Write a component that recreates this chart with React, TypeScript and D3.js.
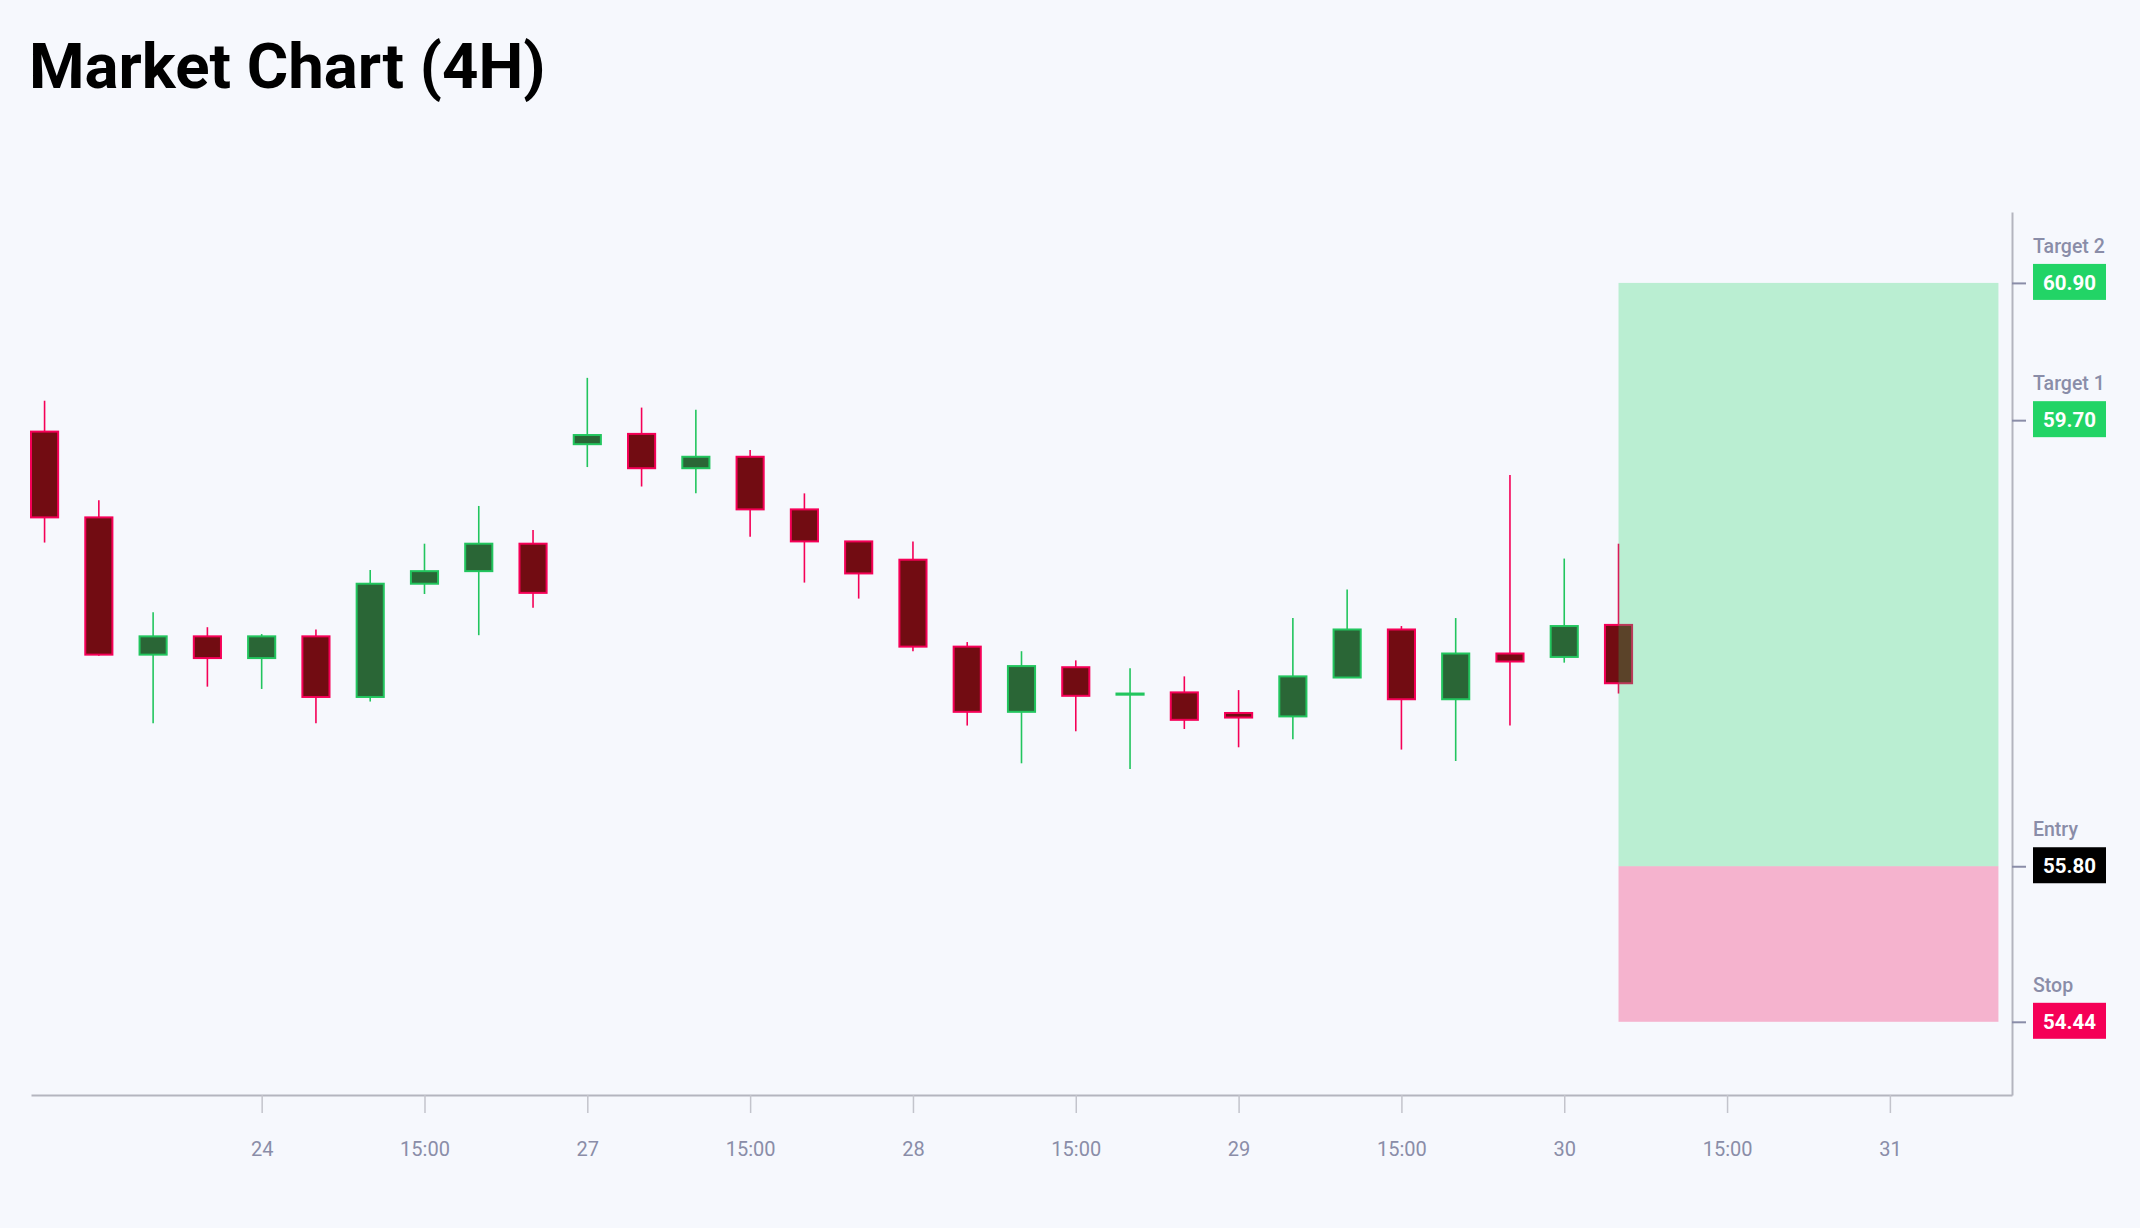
import React, { useEffect, useRef } from 'react';
import * as d3 from 'd3';

// 4H candles, oldest first
const opens = [59.60, 58.85, 57.65, 57.81, 57.62, 57.81, 57.28, 58.27, 58.38, 58.62,
  59.49, 59.58, 59.28, 59.38, 58.92, 58.64, 58.48, 57.72, 57.15, 57.54,
  57.30, 57.32, 57.14, 57.11, 57.45, 57.87, 57.26, 57.66, 57.63, 57.91];
const highs = [59.87, 59.00, 58.02, 57.89, 57.83, 57.87, 58.39, 58.62, 58.95, 58.74,
  60.07, 59.81, 59.79, 59.44, 59.06, 58.64, 58.64, 57.76, 57.68, 57.60,
  57.53, 57.46, 57.34, 57.97, 58.22, 57.90, 57.97, 59.22, 58.49, 58.62];
const lows = [58.63, 57.64, 57.05, 57.37, 57.35, 57.05, 57.24, 58.18, 57.82, 58.06,
  59.29, 59.12, 59.06, 58.68, 58.28, 58.14, 57.68, 57.03, 56.70, 56.98,
  56.65, 57.00, 56.84, 56.91, 57.45, 56.82, 56.72, 57.03, 57.58, 57.31];
const closes = [58.85, 57.65, 57.81, 57.62, 57.81, 57.28, 58.27, 58.38, 58.62, 58.19,
  59.57, 59.28, 59.38, 58.92, 58.64, 58.36, 57.72, 57.15, 57.55, 57.29,
  57.31, 57.08, 57.10, 57.46, 57.87, 57.26, 57.66, 57.59, 57.90, 57.40];

const tickIndex = [4, 7, 10, 13, 16, 19, 22, 25, 28, 31, 34];
const tickLabels = ['24', '15:00', '27', '15:00', '28', '15:00', '29', '15:00', '30', '15:00', '31'];

const levelNames = ['Target 2', 'Target 1', 'Entry', 'Stop'];
const levelPrices = [60.90, 59.70, 55.80, 54.44];
const levelColors = ['#22d466', '#22d466', '#000000', '#f50057'];

const zoneStart = 29;
const zoneEnd = 36;

const W = 2140;
const H = 1228;
const BG = '#f6f8fd';
const UP = '#22c55e';
const DOWN = '#f50057';

const App = () => {
  const svgRef: any = useRef();

  useEffect(() => {
    document.body.style.margin = '0';
    document.body.style.background = BG;

    const svg = d3.select(svgRef.current);
    svg.selectAll('*').remove();
    svg.attr('width', W).attr('height', H).style('display', 'block');

    const left = 31, right = 2012, top = 212, bottom = 1095;
    const x = d3.scaleLinear().domain([-0.25, 36.25]).range([left, right]);
    const y = d3.scaleLinear().domain([53.8, 61.52]).range([bottom, top]);
    const bodyW = (x(1) - x(0)) * 0.5;

    svg.append('rect').attr('width', W).attr('height', H).attr('fill', BG);

    svg.append('text')
      .attr('x', 29).attr('y', 88)
      .attr('font-family', 'Roboto, sans-serif')
      .attr('font-weight', 700)
      .attr('font-size', 63.5)
      .attr('fill', '#000')
      .text('Market Chart (4H)');

    // candles
    const idx = d3.range(opens.length);
    const g = svg.append('g');
    idx.forEach((i) => {
      const up = closes[i] >= opens[i];
      const col = up ? UP : DOWN;
      const cx = x(i);
      g.append('line')
        .attr('x1', cx).attr('x2', cx)
        .attr('y1', y(highs[i])).attr('y2', y(lows[i]))
        .attr('stroke', col).attr('stroke-width', 1.6);
      const y0 = y(Math.max(opens[i], closes[i]));
      const y1 = y(Math.min(opens[i], closes[i]));
      g.append('rect')
        .attr('x', cx - bodyW / 2).attr('width', bodyW)
        .attr('y', y0).attr('height', Math.max(1, y1 - y0))
        .attr('fill', up ? '#2a6636' : '#720c12')
        .attr('stroke', col).attr('stroke-width', 2);
    });

    // trade zones
    const entry = levelPrices[2];
    const stop = levelPrices[3];
    const target = levelPrices[0];
    svg.append('rect')
      .attr('x', x(zoneStart)).attr('width', x(zoneEnd) - x(zoneStart))
      .attr('y', y(target)).attr('height', y(entry) - y(target))
      .attr('fill', '#22d466').attr('fill-opacity', 0.28);
    svg.append('rect')
      .attr('x', x(zoneStart)).attr('width', x(zoneEnd) - x(zoneStart))
      .attr('y', y(entry)).attr('height', y(stop) - y(entry))
      .attr('fill', DOWN).attr('fill-opacity', 0.28);

    // x axis
    const xAxis = d3.axisBottom(x)
      .tickValues(tickIndex)
      .tickFormat((d: any) => tickLabels[tickIndex.indexOf(d)])
      .tickSize(18)
      .tickSizeOuter(0)
      .tickPadding(29);
    const gx = svg.append('g').attr('transform', `translate(0,${bottom})`).call(xAxis);
    gx.select('.domain').attr('stroke', '#b4b5bf').attr('stroke-width', 2);
    gx.selectAll('.tick line').attr('stroke', '#c3c4cc').attr('stroke-width', 1.5);
    gx.selectAll('.tick text')
      .attr('fill', '#8a8da8')
      .attr('font-family', 'Roboto, sans-serif')
      .attr('font-size', 20);

    // y axis with trade levels
    const yAxis = d3.axisRight(y)
      .tickValues(levelPrices)
      .tickFormat(() => '')
      .tickSize(14)
      .tickSizeOuter(0);
    const gy = svg.append('g').attr('transform', `translate(${right},0)`).call(yAxis);
    gy.select('.domain').attr('stroke', '#b4b5bf').attr('stroke-width', 2);
    gy.selectAll('.tick line').attr('stroke', '#8a8da8').attr('stroke-width', 2);

    levelPrices.forEach((p, i) => {
      const ty = y(p);
      const lg = svg.append('g').attr('transform', `translate(${right + 21},${ty})`);
      lg.append('text')
        .attr('x', 0).attr('y', -30)
        .attr('font-family', 'Roboto, sans-serif')
        .attr('font-weight', 500)
        .attr('font-size', 19.5)
        .attr('fill', '#8a8da8')
        .text(levelNames[i]);
      lg.append('rect')
        .attr('x', 0).attr('y', -19).attr('width', 73).attr('height', 36)
        .attr('fill', levelColors[i]);
      lg.append('text')
        .attr('x', 36.5).attr('y', 7)
        .attr('text-anchor', 'middle')
        .attr('font-family', 'Roboto, sans-serif')
        .attr('font-weight', 700)
        .attr('font-size', 20.5)
        .attr('fill', '#fff')
        .text(p.toFixed(2));
    });
  }, []);

  return <svg ref={svgRef}></svg>;
};

export default App;
